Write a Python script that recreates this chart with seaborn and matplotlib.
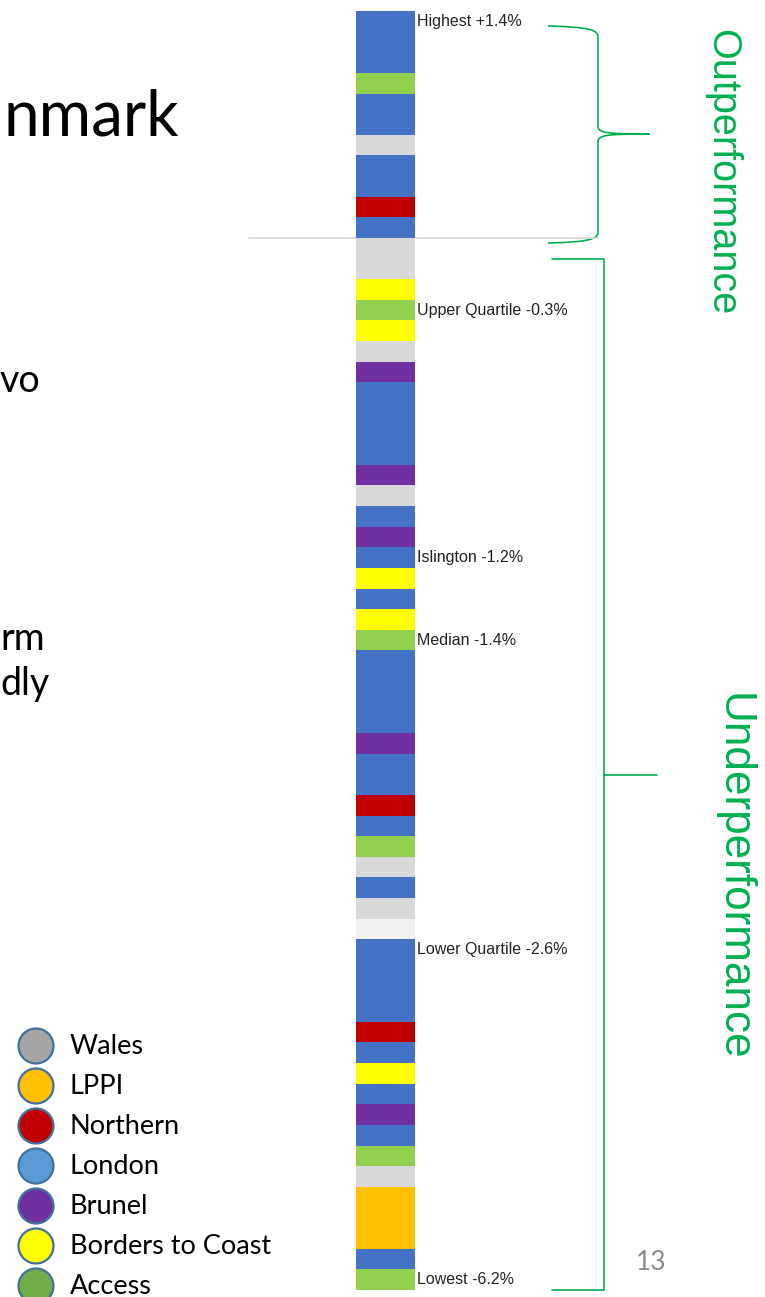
import matplotlib
matplotlib.use('Agg')
import matplotlib.pyplot as plt
from matplotlib.path import Path
from matplotlib.patches import PathPatch, Circle
import pandas as pd
import seaborn as sns

# pool of each fund, ranked best (top) to worst (bottom)
pools = [
    'London', 'London', 'London', 'Access', 'London', 'London', 'Wales',
    'London', 'London', 'Northern', 'London', 'Wales', 'Wales', 'Borders to Coast',
    'Access', 'Borders to Coast', 'Wales', 'Brunel', 'London', 'London', 'London',
    'London', 'Brunel', 'Wales', 'London', 'Brunel', 'London', 'Borders to Coast',
    'London', 'Borders to Coast', 'Access', 'London', 'London', 'London', 'London',
    'Brunel', 'London', 'London', 'Northern', 'London', 'Access', 'Wales',
    'London', 'Wales', 'Other', 'London', 'London', 'London', 'London',
    'Northern', 'London', 'Borders to Coast', 'London', 'Brunel', 'London', 'Access',
    'Wales', 'LPPI', 'LPPI', 'LPPI', 'London', 'Access',
]

# labelled funds (rank position) and their text
marker_ranks = [0, 14, 26, 30, 45, 61]
marker_labels = ['Highest +1.4%', 'Upper Quartile -0.3%', 'Islington -1.2%',
                 'Median -1.4%', 'Lower Quartile -2.6%', 'Lowest -6.2%']

bar_colours = {
    'London': '#4472C4', 'Access': '#92D050', 'Wales': '#D9D9D9',
    'Northern': '#C00000', 'Borders to Coast': '#FFFF00', 'Brunel': '#7030A0',
    'LPPI': '#FFC000', 'Other': '#F2F2F2',
}

legend_names = ['Wales', 'LPPI', 'Northern', 'London', 'Brunel', 'Borders to Coast', 'Access']
legend_colours = ['#A5A5A5', '#FFC000', '#C00000', '#5B9BD5', '#7030A0', '#FFFF00', '#70AD47']

n_top = 11  # funds above the benchmark

sns.set_style('white')
plt.rcParams['font.family'] = ['Lato', 'DejaVu Sans']

W, H = 765, 1297
fig = plt.figure(figsize=(W / 100, H / 100), dpi=100)
fig.patch.set_facecolor('white')

# overlay in pixel coordinates for slide furniture
bg = fig.add_axes([0, 0, 1, 1])
bg.set_xlim(0, W)
bg.set_ylim(H, 0)
bg.axis('off')

ax = fig.add_axes([356 / W, 7 / H, 59 / W, 1279 / H])
df = pd.DataFrame({'rank': range(len(pools)), 'pool': pools, 'share': 1})
sns.barplot(data=df, x='share', y='rank', hue='pool', palette=bar_colours,
            orient='h', dodge=False, width=1, saturation=1, legend=False,
            linewidth=0, ax=ax)
for p in ax.patches:
    p.set_antialiased(False)
ax.set_xlim(0, 1)
ax.set_ylim(len(pools) - 0.5, -0.5)
ax.axis('off')
ax.patch.set_alpha(0)

# benchmark line
ax.plot([-1.81, 4.1], [n_top - 0.5, n_top - 0.5], transform=ax.get_yaxis_transform(),
        color='#D9D9D9', lw=1.3, clip_on=False, zorder=0.5)

for r, t in zip(marker_ranks, marker_labels):
    ax.text(1.03, r, t, transform=ax.get_yaxis_transform(), va='center', ha='left',
            fontsize=11.5, color='#222222', family=['Liberation Sans', 'DejaVu Sans'],
            clip_on=False)

green = '#00B050'
# outperformance brace
verts = [(548, 26), (590, 27), (598, 30), (598, 37), (598, 126),
         (598, 133), (606, 134), (650, 134), (606, 134), (598, 135), (598, 142),
         (598, 232), (598, 239), (590, 242), (548, 243)]
codes = [Path.MOVETO, Path.CURVE4, Path.CURVE4, Path.CURVE4, Path.LINETO,
         Path.CURVE4, Path.CURVE4, Path.CURVE4, Path.CURVE4, Path.CURVE4, Path.CURVE4,
         Path.LINETO, Path.CURVE4, Path.CURVE4, Path.CURVE4]
bg.add_patch(PathPatch(Path(verts, codes), fill=False, edgecolor=green, lw=1.2))
# underperformance bracket
bg.plot([552, 604, 604, 552], [259, 259, 1290, 1290], color=green, lw=1.2)
bg.plot([604, 657], [775, 775], color=green, lw=1.2)

bg.text(722, 172, 'Outperformance', rotation=270, ha='center', va='center',
        fontsize=28.5, color=green, family=['Liberation Sans', 'DejaVu Sans'])
bg.text(733, 877, 'Underperformance', rotation=270, ha='center', va='center',
        fontsize=31.8, color=green, family=['Liberation Sans', 'DejaVu Sans'])

# cut-off slide text on the left
bg.text(179, 135, 'nmark', ha='right', va='baseline', fontsize=46, color='black')
bg.text(0, 392, 'vo', ha='left', va='baseline', fontsize=27, color='black')
bg.text(0, 650, 'rm', ha='left', va='baseline', fontsize=27, color='black')
bg.text(0, 695, 'dly', ha='left', va='baseline', fontsize=27, color='black')

# legend
for i, (name, c) in enumerate(zip(legend_names, legend_colours)):
    y = 1046 + 40 * i
    bg.add_patch(Circle((36, y), 17.5, facecolor=c, edgecolor='#41719C', lw=1.6))
    bg.text(70, y, name, ha='left', va='center', fontsize=19.5, color='black')

bg.text(651, 1263, '13', ha='center', va='center', fontsize=19, color='#8B8B8B')

fig.savefig('out.png', dpi=100, facecolor='white')
